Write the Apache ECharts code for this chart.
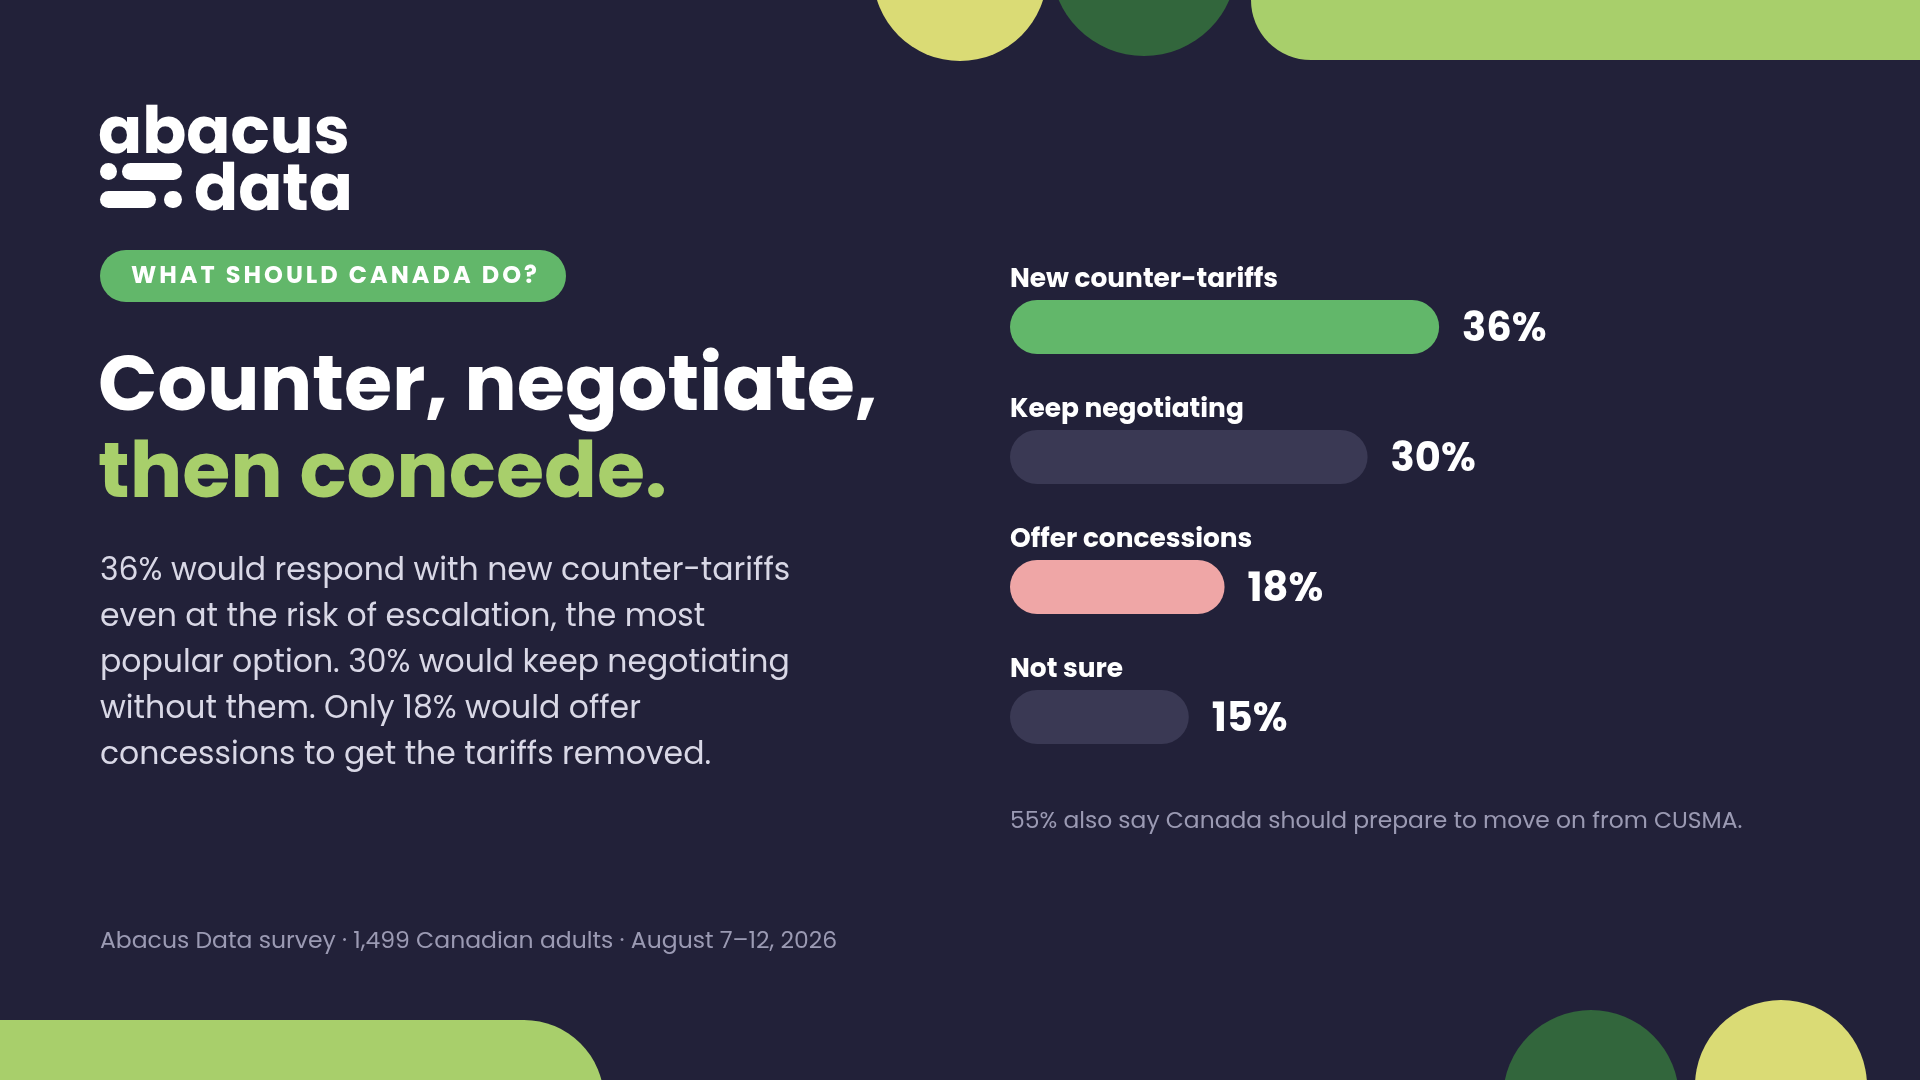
<!DOCTYPE html>
<html>
<head>
<meta charset="utf-8">
<title>What should Canada do?</title>
<script src="https://cdn.jsdelivr.net/npm/echarts@6/dist/echarts.min.js"></script>
<style>
  html, body { margin: 0; padding: 0; background: #222139; }
  #chart-container { width: 1920px; height: 1080px; }
</style>
</head>
<body>
<div id="chart-container"></div>
<script>
// survey answers, top to bottom
const options = ['New counter-tariffs', 'Keep negotiating', 'Offer concessions', 'Not sure'];
const shares = [36, 30, 18, 15];
const barColors = ['#62b76a', '#3a3954', '#efa6a6', '#3a3954'];

const FONT = 'Poppins, Inter, "Open Sans", sans-serif';
const BG = '#222139';

const bodyLines = [
  '36% would respond with new counter-tariffs',
  'even at the risk of escalation, the most',
  'popular option. 30% would keep negotiating',
  'without them. Only 18% would offer',
  'concessions to get the tariffs removed.'
];

// zrender has no letter-spacing, so pad the kicker with small thin spaces (rich text)
const kicker = 'WHAT SHOULD CANADA DO?'.split('').join('{s|\u2009}');

// background shapes + text blocks
const graphics = [
  // top decorations
  { type: 'circle', shape: { cx: 960, cy: -26, r: 87 }, style: { fill: '#dadb75' }, z: 1 },
  { type: 'circle', shape: { cx: 1144, cy: -37, r: 93 }, style: { fill: '#32663c' }, z: 1 },
  { type: 'rect', shape: { x: 1251, y: -60, width: 760, height: 120, r: 60 }, style: { fill: '#a8cf6b' }, z: 1 },
  // bottom decorations
  { type: 'rect', shape: { x: -20, y: 1020, width: 624, height: 140, r: [0, 80, 0, 0] }, style: { fill: '#a8cf6b' }, z: 1 },
  { type: 'circle', shape: { cx: 1591, cy: 1098, r: 88 }, style: { fill: '#32663c' }, z: 1 },
  { type: 'circle', shape: { cx: 1781, cy: 1086, r: 86 }, style: { fill: '#dadb75' }, z: 1 },

  // logo
  { type: 'text', x: 98, y: 169, style: { text: 'abacus', fill: '#fff', font: '700 65px ' + FONT, verticalAlign: 'bottom', textAlign: 'left' }, z: 5 },
  { type: 'rect', shape: { x: 100, y: 163, width: 17, height: 17, r: 8.5 }, style: { fill: '#fff' }, z: 5 },
  { type: 'rect', shape: { x: 122, y: 163, width: 60, height: 17, r: 8.5 }, style: { fill: '#fff' }, z: 5 },
  { type: 'rect', shape: { x: 100, y: 191, width: 56, height: 17, r: 8.5 }, style: { fill: '#fff' }, z: 5 },
  { type: 'rect', shape: { x: 164, y: 191, width: 18, height: 17, r: 8.5 }, style: { fill: '#fff' }, z: 5 },
  { type: 'text', x: 194, y: 226, style: { text: 'data', fill: '#fff', font: '700 65px ' + FONT, verticalAlign: 'bottom', textAlign: 'left' }, z: 5 },

  // kicker pill
  { type: 'rect', shape: { x: 100, y: 250, width: 466, height: 52, r: 26 }, style: { fill: '#62b76a' }, z: 5 },
  {
    type: 'text', x: 334, y: 277, z: 6,
    style: {
      text: kicker, fill: '#fff', font: '700 24px ' + FONT, textAlign: 'center', verticalAlign: 'middle',
      rich: { s: { fontSize: 15, fontFamily: FONT, fontWeight: 700 } }
    }
  },

  // headline
  { type: 'text', x: 98, y: 390, style: { text: 'Counter, negotiate,', fill: '#fff', font: '700 78px ' + FONT, textAlign: 'left', verticalAlign: 'middle' }, z: 5 },
  { type: 'text', x: 98, y: 477, style: { text: 'then concede.', fill: '#a8cf6b', font: '700 78px ' + FONT, textAlign: 'left', verticalAlign: 'middle' }, z: 5 },

  // body copy
  { type: 'text', x: 100, y: 549, style: { text: bodyLines.join('\n'), fill: '#d9d8e6', font: '400 31.5px ' + FONT, lineHeight: 46, textAlign: 'left', verticalAlign: 'top' }, z: 5 },

  // source line
  { type: 'text', x: 100, y: 942, style: { text: 'Abacus Data survey · 1,499 Canadian adults · August 7–12, 2026', fill: '#9b9ab3', font: '400 23.5px ' + FONT, textAlign: 'left', verticalAlign: 'middle' }, z: 5 },

  // side note under the bars
  { type: 'text', x: 1010, y: 822, style: { text: '55% also say Canada should prepare to move on from CUSMA.', fill: '#9b9ab3', font: '400 23.4px ' + FONT, textAlign: 'left', verticalAlign: 'middle' }, z: 5 }
];

const chart = echarts.init(document.getElementById('chart-container'));
chart.setOption({
  backgroundColor: BG,
  animation: false,
  grid: { left: 1010, top: 262, width: 894, height: 520, outerBoundsMode: 'none', containLabel: false },
  xAxis: {
    type: 'value', min: 0, max: 75,
    show: false
  },
  yAxis: {
    type: 'category',
    data: options,
    inverse: true,
    axisLine: { show: false },
    axisTick: { show: false },
    splitLine: { show: false },
    axisLabel: {
      inside: true,
      margin: 0,
      color: '#fff',
      fontFamily: FONT,
      fontWeight: 700,
      fontSize: 26.4,
      verticalAlign: 'bottom',
      padding: [0, 0, 34, 0]
    }
  },
  series: [{
    type: 'bar',
    barWidth: 54,
    data: shares.map((v, i) => ({ value: v, itemStyle: { color: barColors[i] } })),
    itemStyle: { borderRadius: 27 },
    label: {
      show: true,
      position: 'right',
      distance: 23,
      offset: [0, 4],
      formatter: '{c}%',
      color: '#fff',
      fontFamily: FONT,
      fontWeight: 700,
      fontSize: 40
    },
    z: 3
  }],
  graphic: graphics
});
</script>
</body>
</html>
